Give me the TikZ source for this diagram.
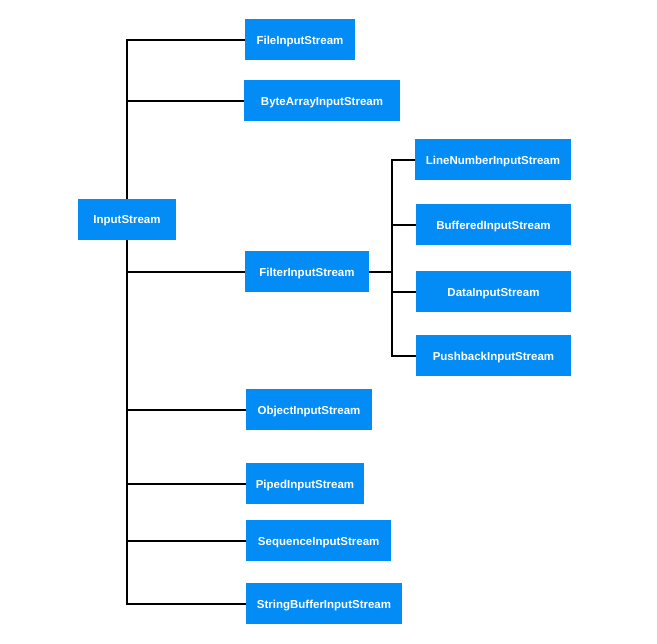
\documentclass[tikz,border=0pt]{standalone}
\usepackage{fontspec}
\setmainfont{Liberation Sans}
\definecolor{boxblue}{RGB}{3,140,245}
\begin{document}
\begin{tikzpicture}[x=1pt,y=-1pt,
  cls/.style={fill=boxblue, draw=none, inner sep=0pt, minimum height=41pt,
    text depth=0pt, text=white, font=\fontsize{11.5}{13}\selectfont\bfseries},
  conn/.style={draw=black, line width=2pt}]
\useasboundingbox (0,0) rectangle (657,644);

% class boxes
\node[cls, minimum width=98pt]  (is)   at (127,219.5) {InputStream};
\node[cls, minimum width=110pt] (fis)  at (300,40)    {FileInputStream};
\node[cls, minimum width=156pt] (bais) at (322,101)   {ByteArrayInputStream};
\node[cls, minimum width=124pt] (fil)  at (307,272)   {FilterInputStream};
\node[cls, minimum width=156pt] (ln)   at (493,160)   {LineNumberInputStream};
\node[cls, minimum width=155pt] (bu)   at (493.5,225) {BufferedInputStream};
\node[cls, minimum width=155pt] (da)   at (493.5,292) {DataInputStream};
\node[cls, minimum width=155pt] (pb)   at (493.5,356) {PushbackInputStream};
\node[cls, minimum width=126pt] (obj)  at (309,410)   {ObjectInputStream};
\node[cls, minimum width=118pt] (pip)  at (305,484)   {PipedInputStream};
\node[cls, minimum width=145pt] (seq)  at (318.7,541) {SequenceInputStream};
\node[cls, minimum width=156pt] (sb)   at (324,604)   {StringBufferInputStream};

% junction of the FilterInputStream subclasses
\coordinate (fj) at (392,272);

% InputStream trunk
\draw[conn] (fis.west) -| (is.north);
\draw[conn] (bais.west) -- (bais.west -| is.north);
\draw[conn] (is.south) |- (sb.west);
\draw[conn] (fil.west) -- (fil.west -| is.south);
\draw[conn] (obj.west) -- (obj.west -| is.south);
\draw[conn] (pip.west) -- (pip.west -| is.south);
\draw[conn] (seq.west) -- (seq.west -| is.south);

% FilterInputStream branch
\draw[conn] (fil.east) -- (fj);
\draw[conn] (ln.west) -| (fj) |- (pb.west);
\draw[conn] (bu.west) -- (bu.west -| fj);
\draw[conn] (da.west) -- (da.west -| fj);
\end{tikzpicture}
\end{document}
